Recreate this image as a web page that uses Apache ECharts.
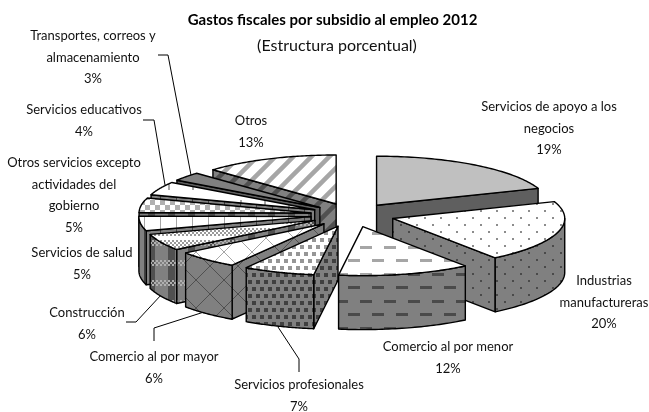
<!DOCTYPE html>
<html>
<head>
<meta charset="utf-8">
<style>html,body{margin:0;padding:0;background:#fff}#chart{width:649px;height:412px}</style>
<script src="https://cdn.jsdelivr.net/npm/echarts@6/dist/echarts.min.js"></script>
</head>
<body>
<div id="chart"></div>
<script>
const categories = [
    'Servicios de apoyo a los\nnegocios',
    'Industrias\nmanufactureras',
    'Comercio al por menor',
    'Servicios profesionales',
    'Comercio al por mayor',
    'Construcción',
    'Servicios de salud',
    'Otros servicios excepto\nactividades del\ngobierno',
    'Servicios educativos',
    'Transportes, correos y\nalmacenamiento',
    'Otros'
];
const shares = [19.4, 20.4, 12.4, 6.7, 5.9, 5.5, 4.8, 4.8, 4.4, 2.9, 12.7];

// back to front, so the nearer wedges paint over the others
const drawOrder = [0, 10, 9, 8, 7, 6, 5, 4, 3, 1, 2];

const pie = { cx: 352.5, cy: 215, rx: 172, ry: 49, depth: 54, explode: 42 };
const FONT = 'Lato';

// label centre x and first line centre y, same order as categories
const labelAnchors = [
    [549, 107], [604, 281], [448, 347], [299, 385], [154, 357], [87, 313],
    [82, 253], [74, 163], [84, 110], [93, 36], [251, 121]
];
const leaders = [
    [[158, 55], [168, 55], [191, 175]],
    [[143, 120], [154, 120], [165, 185]],
    [[126, 322], [136, 322], [162, 294]],
    [[154, 341], [154, 328], [204, 312]],
    [[299, 372], [299, 359], [278, 327]]
];

function tile(w, h, bg, draw) {
    const c = document.createElement('canvas');
    c.width = w;
    c.height = h;
    const g = c.getContext('2d');
    g.fillStyle = bg;
    g.fillRect(0, 0, w, h);
    draw(g);
    return { image: c, repeat: 'repeat' };
}

function dots(bg, fg) {
    return tile(16, 14, bg, g => {
        g.fillStyle = fg;
        g.fillRect(0, 0, 2, 2);
        g.fillRect(8, 7, 2, 2);
    });
}
function dashes(bg, fg) {
    return tile(24, 27, bg, g => {
        g.fillStyle = fg;
        g.fillRect(0, 3, 12, 3);
        g.fillRect(12, 16, 12, 3);
    });
}
function squares(bg, fg) {
    return tile(16, 14, bg, g => {
        g.fillStyle = fg;
        g.fillRect(0, 0, 4, 4);
        g.fillRect(8, 0, 4, 4);
        g.fillRect(4, 7, 4, 4);
        g.fillRect(12, 7, 4, 4);
    });
}
function diagGrid(bg, fg) {
    return tile(28, 28, bg, g => {
        g.strokeStyle = fg;
        g.lineWidth = 1;
        g.beginPath();
        g.moveTo(0, 0); g.lineTo(28, 28);
        g.moveTo(0, 28); g.lineTo(28, 0);
        g.stroke();
    });
}
function fineCheck(bg, fg) {
    return tile(12, 12, bg, g => {
        g.fillStyle = fg;
        for (let y = 0; y < 8; y += 2) {
            for (let x = (y % 4) / 2 * 2; x < 12; x += 4) g.fillRect(x, y, 2, 2);
        }
    });
}
function plaid(bg, fg) {
    return tile(20, 20, bg, g => {
        g.fillStyle = fg;
        g.fillRect(8, 0, 7, 20);
        g.fillStyle = '#b0b0b0';
        for (let x = 0; x < 20; x += 4) {
            g.fillRect(x, 0, 2, 2);
            g.fillRect(x + 2, 2, 2, 2);
            g.fillRect(x, 4, 2, 2);
        }
    });
}
function vLines(bg, fg) {
    return tile(16, 16, bg, g => {
        g.fillStyle = fg;
        g.fillRect(0, 0, 1, 16);
    });
}
function bigCheck(bg, fg) {
    return tile(10, 10, bg, g => {
        g.fillStyle = fg;
        g.fillRect(0, 0, 5, 5);
        g.fillRect(5, 5, 5, 5);
    });
}
function vDash(bg, fg) {
    return tile(24, 20, bg, g => {
        g.fillStyle = fg;
        g.fillRect(0, 0, 2, 10);
    });
}
function stripes(bg, fg) {
    return tile(18, 18, bg, g => {
        g.strokeStyle = fg;
        g.lineWidth = 4.5;
        g.beginPath();
        g.moveTo(-4, 4); g.lineTo(4, -4);
        g.moveTo(-4, 22); g.lineTo(22, -4);
        g.moveTo(14, 22); g.lineTo(22, 14);
        g.stroke();
    });
}

const WALL = '#808080';
const topFills = [
    '#c0c0c0',
    dots('#fff', '#8c8c8c'),
    dashes('#fff', '#a6a6a6'),
    squares('#fff', '#969696'),
    diagGrid('#fff', '#a6a6a6'),
    fineCheck('#fff', '#999'),
    vLines('#fff', '#a6a6a6'),
    bigCheck('#fff', '#b0b0b0'),
    vDash('#fff', '#a6a6a6'),
    '#808080',
    stripes('#fff', '#a6a6a6')
];
const wallFills = [
    '#5f5f5f',
    dots(WALL, '#4a4a4a'),
    dashes(WALL, '#4a4a4a'),
    squares(WALL, '#404040'),
    diagGrid(WALL, '#505050'),
    plaid(WALL, '#505050'),
    vLines(WALL, '#404040'),
    plaid(WALL, '#505050'),
    vLines(WALL, '#404040'),
    '#5f5f5f',
    stripes(WALL, '#505050')
];

const total = shares.reduce((a, b) => a + b, 0);
const starts = [];
shares.reduce((acc, v, i) => {
    starts[i] = acc;
    return acc + v / total * Math.PI * 2;
}, 0);

function renderSlice(params, api) {
    const i = api.value(0);
    const a0 = starts[i];
    const a1 = a0 + api.value(1) / total * Math.PI * 2;
    const mid = (a0 + a1) / 2;
    const cx = pie.cx + pie.explode * Math.sin(mid);
    const cy = pie.cy - pie.explode * (pie.ry / pie.rx) * Math.cos(mid);
    const rim = a => [cx + pie.rx * Math.sin(a), cy - pie.ry * Math.cos(a)];
    const drop = p => [p[0], p[1] + pie.depth];
    const edge = { stroke: '#000', lineWidth: 1.4, lineJoin: 'round' };
    const children = [];
    const wall = pts => children.push({
        type: 'polygon',
        shape: { points: pts },
        style: Object.assign({ fill: wallFills[i] }, edge)
    });
    const apex = [cx, cy];

    // radial cut faces, only the ones turned to the viewer
    if (Math.sin(a0) < -0.001) wall([apex, rim(a0), drop(rim(a0)), drop(apex)]);
    if (Math.sin(a1) > 0.001) wall([apex, rim(a1), drop(rim(a1)), drop(apex)]);

    // outer wall, front half of the ellipse only
    const from = Math.max(a0, Math.PI / 2);
    const to = Math.min(a1, Math.PI * 1.5);
    if (to > from) {
        const upper = [];
        for (let k = 0; k <= 40; k++) upper.push(rim(from + (to - from) * k / 40));
        wall(upper.concat(upper.slice().reverse().map(drop)));
    }

    const face = [apex];
    for (let k = 0; k <= 60; k++) face.push(rim(a0 + (a1 - a0) * k / 60));
    children.push({
        type: 'polygon',
        shape: { points: face },
        style: Object.assign({ fill: topFills[i] }, edge)
    });
    return { type: 'group', children };
}

const labelTexts = categories.map((name, i) => ({
    type: 'text',
    x: labelAnchors[i][0],
    y: labelAnchors[i][1] - 10.5,
    style: {
        text: name + '\n' + Math.round(shares[i]) + '%',
        fontFamily: FONT,
        fontSize: 13,
        lineHeight: 21.5,
        align: 'center',
        verticalAlign: 'top',
        fill: '#111'
    }
}));
const leaderLines = leaders.map(pts => ({
    type: 'polyline',
    shape: { points: pts },
    style: { stroke: '#000', lineWidth: 1, fill: null }
}));

const chart = echarts.init(document.getElementById('chart'));
chart.setOption({
    animation: false,
    title: [{
        text: 'Gastos fiscales por subsidio al empleo 2012',
        left: 327.5,
        top: 8,
        textAlign: 'center',
        textStyle: { fontFamily: FONT, fontSize: 15, fontWeight: 'bold', color: '#000' }
    }, {
        text: '(Estructura porcentual)',
        left: 332,
        top: 33,
        textAlign: 'center',
        textStyle: { fontFamily: FONT, fontSize: 16, fontWeight: 'normal', color: '#111' }
    }],
    graphic: leaderLines.concat(labelTexts),
    series: [{
        type: 'custom',
        coordinateSystem: 'none',
        silent: true,
        renderItem: renderSlice,
        data: drawOrder.map(i => ({ name: categories[i], value: [i, shares[i]] }))
    }]
});
</script>
</body>
</html>
